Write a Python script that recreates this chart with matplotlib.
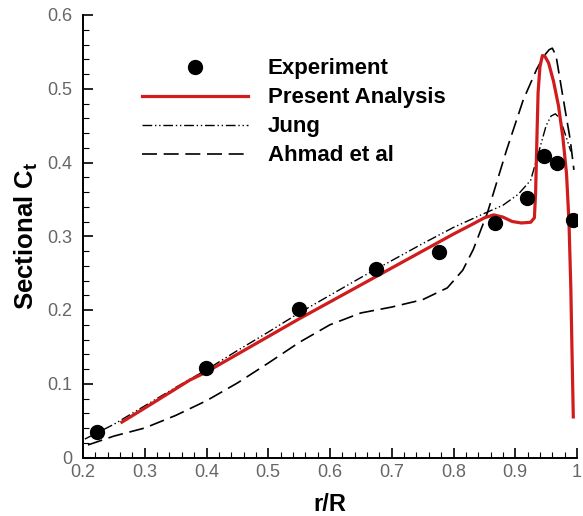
import matplotlib
matplotlib.use("Agg")
import matplotlib.pyplot as plt
from matplotlib.ticker import MultipleLocator

# Sectional thrust coefficient along the blade span
exp_r = [0.223, 0.399, 0.550, 0.675, 0.776, 0.867, 0.919, 0.947, 0.968, 0.993]
exp_ct = [0.035, 0.122, 0.201, 0.256, 0.279, 0.318, 0.352, 0.409, 0.399, 0.322]

present_r = [0.263, 0.30, 0.35, 0.373, 0.40, 0.45, 0.50, 0.55, 0.60, 0.65, 0.70, 0.75,
             0.80, 0.83, 0.85, 0.865, 0.88, 0.895, 0.910, 0.925, 0.931, 0.933, 0.935,
             0.937, 0.940, 0.944, 0.948, 0.954, 0.962, 0.970, 0.977, 0.983, 0.987,
             0.990, 0.992, 0.994]
present_ct = [0.048, 0.067, 0.093, 0.105, 0.116, 0.140, 0.164, 0.188, 0.211, 0.234,
              0.257, 0.280, 0.303, 0.316, 0.325, 0.329, 0.326, 0.320, 0.318, 0.319,
              0.325, 0.360, 0.430, 0.495, 0.530, 0.545, 0.544, 0.535, 0.510, 0.477,
              0.435, 0.385, 0.320, 0.230, 0.140, 0.055]

jung_r = [0.203, 0.25, 0.30, 0.35, 0.40, 0.45, 0.50, 0.55, 0.60, 0.65, 0.70, 0.75,
          0.80, 0.85, 0.88, 0.905, 0.925, 0.940, 0.950, 0.958, 0.965, 0.972, 0.978,
          0.985, 0.990]
jung_ct = [0.025, 0.045, 0.070, 0.095, 0.119, 0.145, 0.170, 0.196, 0.220, 0.244,
           0.267, 0.290, 0.312, 0.331, 0.342, 0.357, 0.376, 0.420, 0.450, 0.463,
           0.466, 0.460, 0.446, 0.428, 0.415]

ahmad_r = [0.208, 0.25, 0.30, 0.35, 0.40, 0.45, 0.50, 0.55, 0.60, 0.65, 0.70, 0.75,
           0.79, 0.815, 0.832, 0.855, 0.886, 0.913, 0.935, 0.947, 0.955, 0.960,
           0.966, 0.977, 0.989, 0.995]
ahmad_ct = [0.017, 0.029, 0.040, 0.057, 0.077, 0.101, 0.128, 0.156, 0.180, 0.196,
            0.204, 0.214, 0.230, 0.254, 0.282, 0.332, 0.417, 0.485, 0.527, 0.545,
            0.553, 0.555, 0.545, 0.490, 0.431, 0.390]

plt.rcParams["font.family"] = ["Liberation Sans", "DejaVu Sans"]
plt.rcParams["mathtext.fontset"] = "custom"
plt.rcParams["mathtext.rm"] = "Liberation Sans"
plt.rcParams["mathtext.bf"] = "Liberation Sans:bold"

fig = plt.figure(figsize=(5.83, 5.16), dpi=100)
ax = fig.add_axes([83 / 583, 58.5 / 516, 494 / 583, 442.5 / 516])

ax.plot(exp_r, exp_ct, "o", color="black", markersize=10, label="Experiment", zorder=4)
ax.plot(present_r, present_ct, "-", color="#d01c1c", linewidth=2.3,
        label="Present Analysis", zorder=3)
ax.plot(jung_r, jung_ct, color="black", linewidth=1.0,
        dashes=(7, 2, 1, 2, 1, 2), label="Jung", zorder=2)
ax.plot(ahmad_r, ahmad_ct, color="black", linewidth=1.2,
        dashes=(9, 4), label="Ahmad et al", zorder=2)

ax.set_xlim(0.2, 1.0)
ax.set_ylim(0, 0.6)
ax.xaxis.set_major_locator(MultipleLocator(0.1))
ax.xaxis.set_minor_locator(MultipleLocator(0.02))
ax.yaxis.set_major_locator(MultipleLocator(0.1))
ax.yaxis.set_minor_locator(MultipleLocator(0.02))
ax.xaxis.set_major_formatter(plt.FuncFormatter(lambda v, p: f"{v:g}"))
ax.yaxis.set_major_formatter(plt.FuncFormatter(lambda v, p: f"{v:g}"))

for side in ("top", "right"):
    ax.spines[side].set_visible(False)
for side in ("left", "bottom"):
    ax.spines[side].set_linewidth(1.4)

ax.tick_params(which="major", direction="in", length=7, width=1.2,
               labelsize=13, labelcolor="#666666")
ax.tick_params(which="minor", direction="in", length=4, width=0.8)
ax.tick_params(axis="y", which="major", pad=8)
ax.tick_params(axis="x", which="major", pad=5)

ax.set_xlabel("r/R", fontsize=17, fontweight="bold", labelpad=8)
ax.set_ylabel(r"Sectional C$_\mathbf{t}$", fontsize=18.5, fontweight="bold", labelpad=5)

leg = ax.legend(loc="upper left", bbox_to_anchor=(0.119, 0.902), frameon=False,
                prop={"weight": "bold", "size": 16},
                handlelength=4.8, handletextpad=0.86, labelspacing=0.36,
                borderpad=0, borderaxespad=0, numpoints=1)

fig.savefig("out.png", dpi=100)
